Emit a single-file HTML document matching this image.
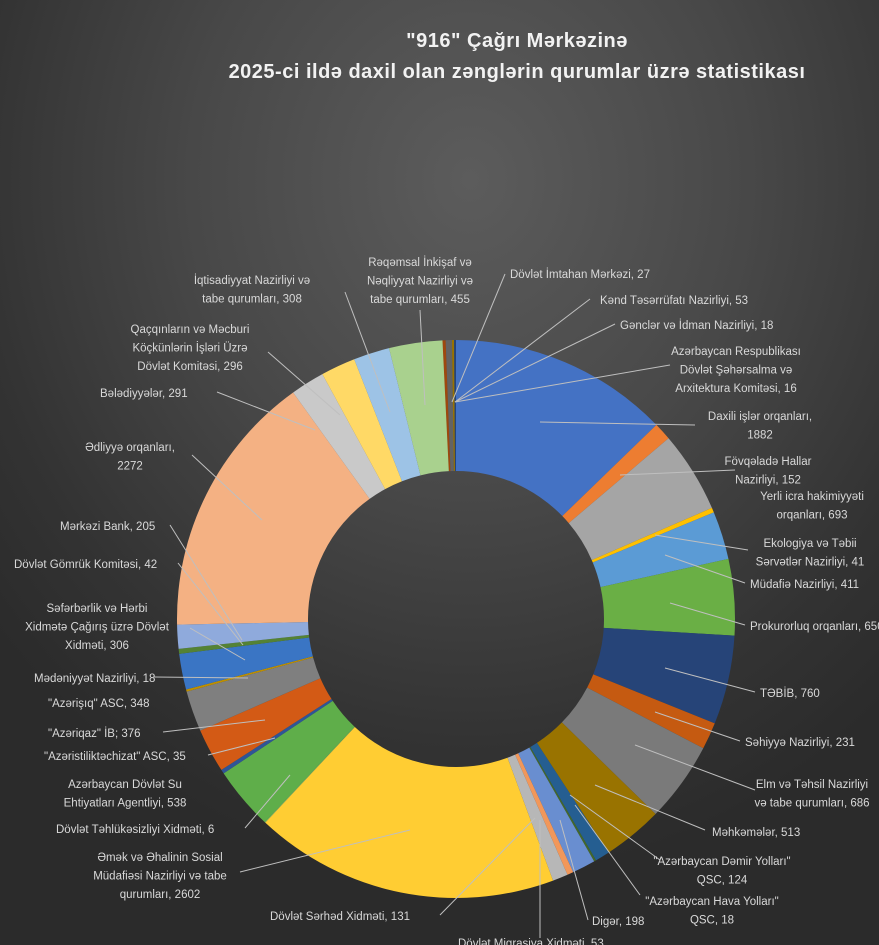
<!DOCTYPE html>
<html><head><meta charset="utf-8">
<style>
html,body{margin:0;padding:0;}
body{width:879px;height:945px;overflow:hidden;background:radial-gradient(ellipse 620px 700px at 470px 180px,#5c5c5c 0%,#484848 45%,#333 80%,#2b2b2b 100%);font-family:"Liberation Sans",sans-serif;}
svg{position:absolute;left:0;top:0;}
.t{fill:#f2f2f2;font-weight:bold;font-size:20px;letter-spacing:0.5px;}
.l{fill:#d9d9d9;font-size:11.5px;}
</style></head><body>
<svg id="s" width="879" height="945" xmlns="http://www.w3.org/2000/svg">
<text class="t" x="517" y="47" text-anchor="middle">"916" Çağrı Mərkəzinə</text>
<text class="t" x="517" y="78" text-anchor="middle">2025-ci ildə daxil olan zənglərin qurumlar üzrə statistikası</text>
<g id="pie"></g>
<g id="lines" stroke="#bfbfbf" stroke-width="1" fill="none"></g>
<g id="labels" class="l"></g>
</svg>
<script>
var d=[[27,"#9e480e"],[53,"#636363"],[18,"#997300"],[16,"#264478"],[1882,"#4472c4"],[152,"#ed7d31"],[693,"#a5a5a5"],[41,"#ffc000"],[411,"#5b9bd5"],[650,"#6aaf45"],[760,"#264478"],[231,"#c55a11"],[686,"#7a7a7a"],[513,"#997300"],[124,"#255e91"],[18,"#43682b"],[198,"#698ed0"],[53,"#f1975a"],[131,"#b7b7b7"],[2602,"#ffcd33"],[6,"#8cc168"],[538,"#5fae4a"],[35,"#2f5597"],[376,"#d35a15"],[348,"#7f7f7f"],[18,"#bf9000"],[306,"#3a75c4"],[42,"#548235"],[205,"#8faadc"],[2272,"#f4b183"],[291,"#c9c9c9"],[296,"#ffd966"],[308,"#9dc3e6"],[455,"#a9d18e"]];
var T=0;d.forEach(function(x){T+=x[0]});
var cx=456,cy=619,R=279,r=148,a=-114/T*2*Math.PI,h="";
function p(rad,ang){return [cx+rad*Math.sin(ang),cy-rad*Math.cos(ang)];}
d.forEach(function(x){var a2=a+x[0]/T*2*Math.PI,lg=(a2-a)>Math.PI?1:0;
var p1=p(R,a),p2=p(R,a2),p3=p(r,a2),p4=p(r,a);
h+='<path fill="'+x[1]+'" d="M'+p1+' A'+R+','+R+' 0 '+lg+' 1 '+p2+' L'+p3+' A'+r+','+r+' 0 '+lg+' 0 '+p4+'Z"/>';a=a2;});
document.getElementById('pie').innerHTML=h;
var L=[
[["Rəqəmsal İnkişaf və","Nəqliyyat Nazirliyi və","tabe qurumları, 455"],420,266,"middle",[420,310,425,405]],
[["İqtisadiyyat Nazirliyi və","tabe qurumları, 308"],252,284,"middle",[345,292,390,412]],
[["Qaçqınların və Məcburi","Köçkünlərin İşləri Üzrə","Dövlət Komitəsi, 296"],190,333,"middle",[268,352,340,415]],
[["Bələdiyyələr, 291"],100,397,"start",[217,392,315,430]],
[["Ədliyyə orqanları,","2272"],130,451,"middle",[192,455,262,520]],
[["Mərkəzi Bank, 205"],60,530,"start",[170,525,242,640]],
[["Dövlət Gömrük Komitəsi, 42"],14,568,"start",[178,563,243,645]],
[["Səfərbərlik və Hərbi","Xidmətə Çağırış üzrə Dövlət","Xidməti, 306"],97,612,"middle",[190,628,245,660]],
[["Mədəniyyət Nazirliyi, 18"],34,682,"start",[154,677,248,678]],
[["\"Azərişıq\" ASC, 348"],48,707,"start",null],
[["\"Azəriqaz\" İB; 376"],48,737,"start",[163,732,265,720]],
[["\"Azəristiliktəchizat\" ASC, 35"],44,760,"start",[208,755,275,738]],
[["Azərbaycan Dövlət Su","Ehtiyatları Agentliyi, 538"],125,788,"middle",null],
[["Dövlət Təhlükəsizliyi Xidməti, 6"],56,833,"start",[245,828,290,775]],
[["Əmək və Əhalinin Sosial","Müdafiəsi Nazirliyi və tabe","qurumları, 2602"],160,861,"middle",[240,872,410,830]],
[["Dövlət Sərhəd Xidməti, 131"],270,920,"start",[440,915,535,818]],
[["Dövlət Migrasiya Xidməti, 53"],458,947,"start",[540,938,540,820]],
[["Digər, 198"],592,925,"start",[588,920,560,820]],
[["\"Azərbaycan Hava Yolları\"","QSC, 18"],712,905,"middle",[640,895,575,805]],
[["\"Azərbaycan Dəmir Yolları\"","QSC, 124"],722,865,"middle",[660,860,570,795]],
[["Məhkəmələr, 513"],712,836,"start",[705,830,595,785]],
[["Elm və Təhsil Nazirliyi","və tabe qurumları, 686"],812,788,"middle",[755,790,635,745]],
[["Səhiyyə Nazirliyi, 231"],745,746,"start",[740,741,655,712]],
[["TƏBİB, 760"],760,697,"start",[755,692,665,668]],
[["Prokurorluq orqanları, 650"],750,630,"start",[745,625,670,603]],
[["Müdafiə Nazirliyi, 411"],750,588,"start",[745,583,665,555]],
[["Ekologiya və Təbii","Sərvətlər Nazirliyi, 41"],810,547,"middle",[748,550,655,535]],
[["Yerli icra hakimiyyəti","orqanları, 693"],812,500,"middle",null],
[["Fövqəladə Hallar","Nazirliyi, 152"],768,465,"middle",[735,470,620,475]],
[["Daxili işlər orqanları,","1882"],760,420,"middle",[695,425,540,422]],
[["Azərbaycan Respublikası","Dövlət Şəhərsalma və","Arxitektura Komitəsi, 16"],736,355,"middle",[670,365,455,402]],
[["Gənclər və İdman Nazirliyi, 18"],620,329,"start",[615,324,455,402]],
[["Kənd Təsərrüfatı Nazirliyi, 53"],600,304,"start",[590,299,455,402]],
[["Dövlət İmtahan Mərkəzi, 27"],510,278,"start",[505,274,452,402]]
];
var th="",lh="";
L.forEach(function(o){o[0].forEach(function(s,i){th+='<text x="'+o[1]+'" y="'+(o[2]+i*18.5)+'" text-anchor="'+o[3]+'">'+s.replace(/&/g,"&amp;").replace(/</g,"&lt;")+'</text>';});
if(o[4])lh+='<line x1="'+o[4][0]+'" y1="'+o[4][1]+'" x2="'+o[4][2]+'" y2="'+o[4][3]+'"/>';});
document.getElementById('labels').innerHTML=th;
document.getElementById('lines').innerHTML=lh;
</script>
</body></html>
